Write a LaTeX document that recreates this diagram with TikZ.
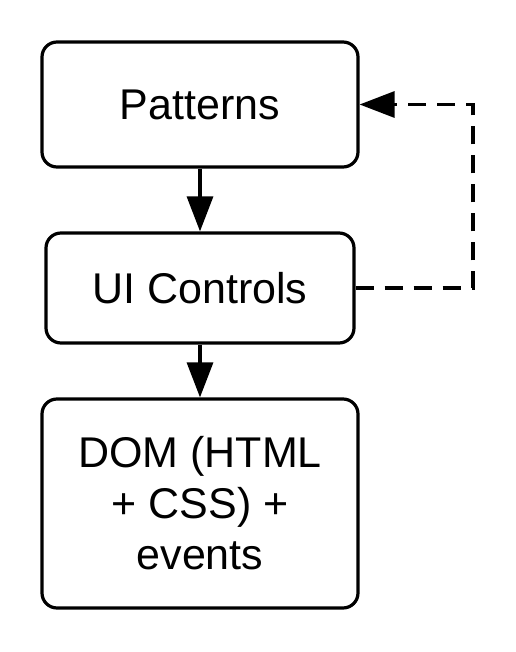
\documentclass[tikz,border=0pt]{standalone}
\usepackage{fontspec}
\setmainfont{Liberation Sans}
\usetikzlibrary{arrows.meta}
\begin{document}
\begin{tikzpicture}[x=1pt,y=-1pt,
  box/.style={draw, line width=3.2pt, rounded corners=15pt, align=center,
    inner sep=0pt, font=\fontsize{43}{51}\selectfont},
  conn/.style={line width=3.2pt, -{Triangle[length=35pt,width=26pt]}},
  dashconn/.style={conn, dash pattern=on 18pt off 11pt}]
\useasboundingbox (0,0) rectangle (515,652);
\node[box, minimum width=316pt, minimum height=125pt] (pat) at (200,104.5) {Patterns};
\node[box, minimum width=308pt, minimum height=110pt] (ui) at (200,288) {UI Controls};
\node[box, minimum width=316pt, minimum height=209pt] (dom) at (200,503.5) {DOM (HTML\\+ CSS) +\\events};
\draw[conn] (pat.south) -- (ui.north);
\draw[conn] (ui.south) -- (dom.north);
\coordinate (c1) at (473,288);
\coordinate (c2) at (473,104.5);
\draw[dashconn] (ui.east) -- (c1) -- (c2) -- (pat.east);
\end{tikzpicture}
\end{document}
